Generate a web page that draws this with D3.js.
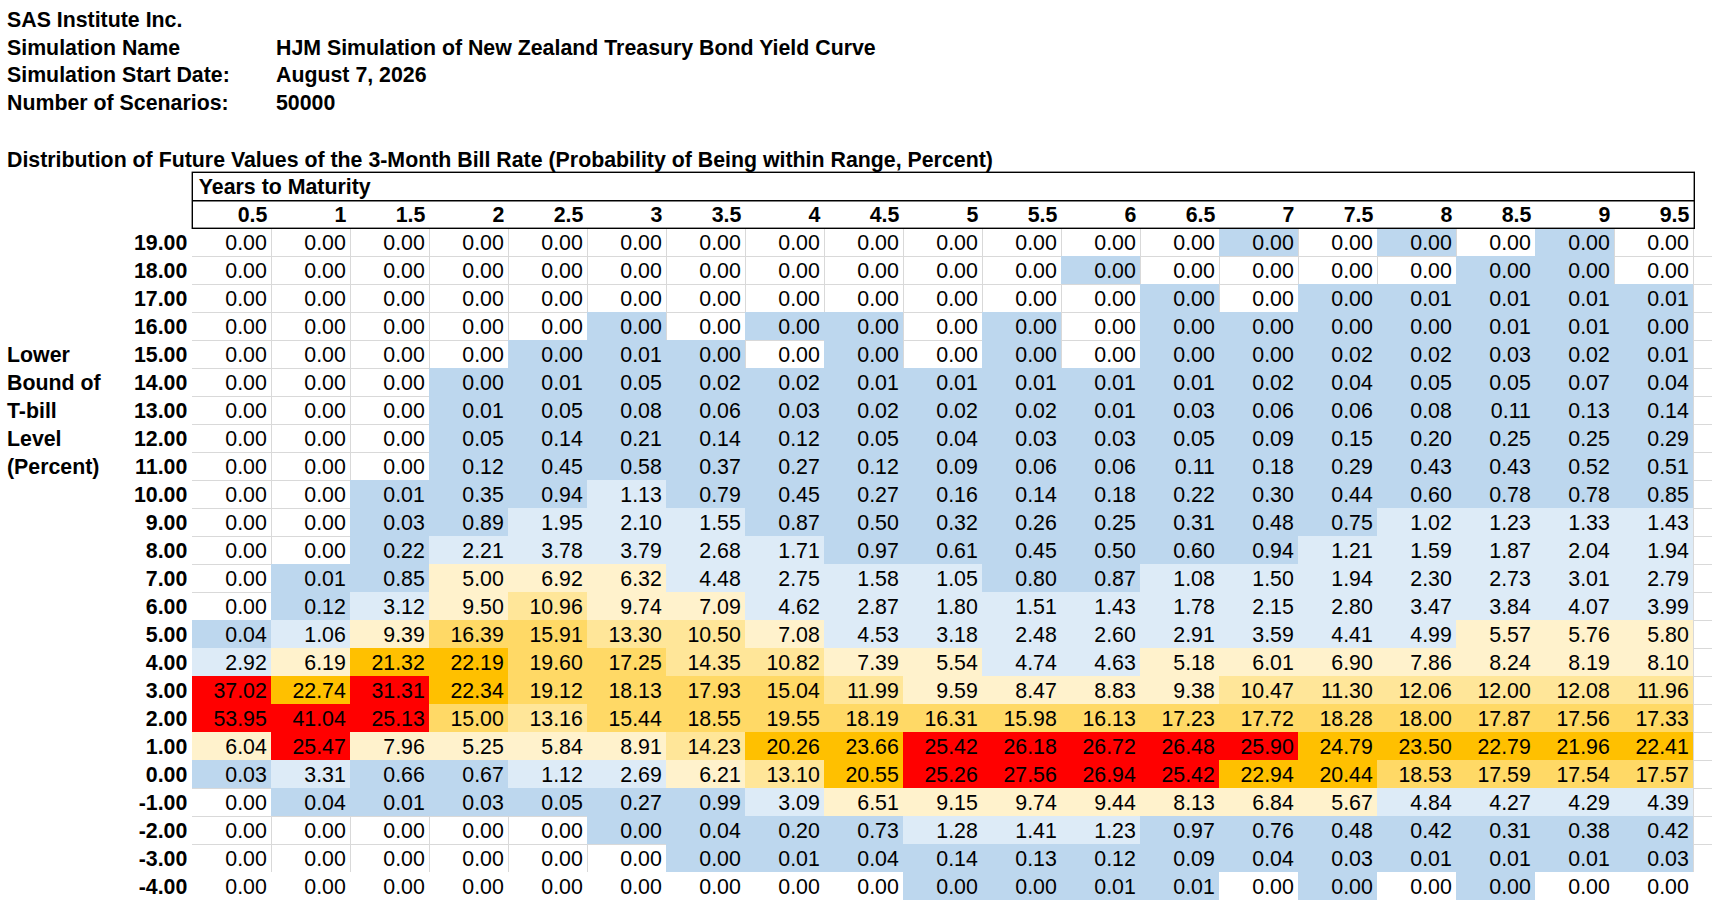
<!DOCTYPE html>
<html>
<head>
<meta charset="utf-8">
<script src="https://cdn.jsdelivr.net/npm/d3@7"></script>
<style>
  body { margin: 0; background: #fff; }
  svg { display: block; }
  text { font-family: "Liberation Sans", Arial, Helvetica, sans-serif; font-size: 21.33px; fill: #000; }
</style>
</head>
<body>
<script>
// ---------- data ----------
const company = "SAS Institute Inc.";
const infoLabels = ["Simulation Name", "Simulation Start Date:", "Number of Scenarios:"];
const infoValues = ["HJM Simulation of New Zealand Treasury Bond Yield Curve", "August 7, 2026", "50000"];
const tableTitle = "Distribution of Future Values of the 3-Month Bill Rate (Probability of Being within Range, Percent)";
const columnHeader = "Years to Maturity";
const rowHeaderLines = ["Lower", "Bound of", "T-bill", "Level", "(Percent)"];

const years = ["0.5","1","1.5","2","2.5","3","3.5","4","4.5","5","5.5","6","6.5","7","7.5","8","8.5","9","9.5"];
const lowerBounds = ["19.00","18.00","17.00","16.00","15.00","14.00","13.00","12.00","11.00","10.00","9.00","8.00",
                     "7.00","6.00","5.00","4.00","3.00","2.00","1.00","0.00","-1.00","-2.00","-3.00","-4.00"];

// probability (percent) per lower bound row; 0.001 = tiny positive value shown as 0.00
const probability = [
  [0,0,0,0,0,0,0,0,0,0,0,0,0,0.001,0,0.001,0,0.001,0],
  [0,0,0,0,0,0,0,0,0,0,0,0.001,0,0,0,0,0.001,0.001,0],
  [0,0,0,0,0,0,0,0,0,0,0,0,0.001,0,0.001,0.01,0.01,0.01,0.01],
  [0,0,0,0,0,0.001,0,0.001,0.001,0,0.001,0,0.001,0.001,0.001,0.001,0.01,0.01,0.001],
  [0,0,0,0,0.001,0.01,0.001,0,0.001,0,0.001,0,0.001,0.001,0.02,0.02,0.03,0.02,0.01],
  [0,0,0,0.001,0.01,0.05,0.02,0.02,0.01,0.01,0.01,0.01,0.01,0.02,0.04,0.05,0.05,0.07,0.04],
  [0,0,0,0.01,0.05,0.08,0.06,0.03,0.02,0.02,0.02,0.01,0.03,0.06,0.06,0.08,0.11,0.13,0.14],
  [0,0,0,0.05,0.14,0.21,0.14,0.12,0.05,0.04,0.03,0.03,0.05,0.09,0.15,0.20,0.25,0.25,0.29],
  [0,0,0,0.12,0.45,0.58,0.37,0.27,0.12,0.09,0.06,0.06,0.11,0.18,0.29,0.43,0.43,0.52,0.51],
  [0,0,0.01,0.35,0.94,1.13,0.79,0.45,0.27,0.16,0.14,0.18,0.22,0.30,0.44,0.60,0.78,0.78,0.85],
  [0,0,0.03,0.89,1.95,2.10,1.55,0.87,0.50,0.32,0.26,0.25,0.31,0.48,0.75,1.02,1.23,1.33,1.43],
  [0,0,0.22,2.21,3.78,3.79,2.68,1.71,0.97,0.61,0.45,0.50,0.60,0.94,1.21,1.59,1.87,2.04,1.94],
  [0,0.01,0.85,5.00,6.92,6.32,4.48,2.75,1.58,1.05,0.80,0.87,1.08,1.50,1.94,2.30,2.73,3.01,2.79],
  [0,0.12,3.12,9.50,10.96,9.74,7.09,4.62,2.87,1.80,1.51,1.43,1.78,2.15,2.80,3.47,3.84,4.07,3.99],
  [0.04,1.06,9.39,16.39,15.91,13.30,10.50,7.08,4.53,3.18,2.48,2.60,2.91,3.59,4.41,4.99,5.57,5.76,5.80],
  [2.92,6.19,21.32,22.19,19.60,17.25,14.35,10.82,7.39,5.54,4.74,4.63,5.18,6.01,6.90,7.86,8.24,8.19,8.10],
  [37.02,22.74,31.31,22.34,19.12,18.13,17.93,15.04,11.99,9.59,8.47,8.83,9.38,10.47,11.30,12.06,12.00,12.08,11.96],
  [53.95,41.04,25.13,15.00,13.16,15.44,18.55,19.55,18.19,16.31,15.98,16.13,17.23,17.72,18.28,18.00,17.87,17.56,17.33],
  [6.04,25.47,7.96,5.25,5.84,8.91,14.23,20.26,23.66,25.42,26.18,26.72,26.48,25.90,24.79,23.50,22.79,21.96,22.41],
  [0.03,3.31,0.66,0.67,1.12,2.69,6.21,13.10,20.55,25.26,27.56,26.94,25.42,22.94,20.44,18.53,17.59,17.54,17.57],
  [0,0.04,0.01,0.03,0.05,0.27,0.99,3.09,6.51,9.15,9.74,9.44,8.13,6.84,5.67,4.84,4.27,4.29,4.39],
  [0,0,0,0,0,0.001,0.04,0.20,0.73,1.28,1.41,1.23,0.97,0.76,0.48,0.42,0.31,0.38,0.42],
  [0,0,0,0,0,0,0.001,0.01,0.04,0.14,0.13,0.12,0.09,0.04,0.03,0.01,0.01,0.01,0.03],
  [0,0,0,0,0,0,0,0,0,0.001,0.001,0.01,0.01,0,0.001,0,0.001,0,0]
];

const colorBreaks = [0.0005, 1, 5, 10, 15, 20, 25];
const colorFills = ["none", "#BDD7EE", "#DDEBF7", "#FFF2CC", "#FFE699", "#FFD966", "#FFC000", "#FF0000"];

// ---------- layout ----------
const W = 1712, H = 914;
const tableLeft = 192.3, colW = 79;
const boxTop = 172.3, boxMid = 200.7, dataTop = 228.3, rowH = 28;

const x = d3.scaleBand().domain(years).range([tableLeft, tableLeft + years.length * colW]);
const y = d3.scaleBand().domain(lowerBounds).range([dataTop, dataTop + lowerBounds.length * rowH]);
const fill = d3.scaleThreshold().domain(colorBreaks).range(colorFills);
const tableRight = x.range()[1];

const svg = d3.select("body").append("svg").attr("width", W).attr("height", H);

// info block
svg.append("text").attr("x", 7).attr("y", 27.3).attr("font-weight", "bold").text(company);
const infoBase = [54.8, 82.4, 110];
infoLabels.forEach((t, i) => {
  svg.append("text").attr("x", 7).attr("y", infoBase[i]).attr("font-weight", "bold").text(t);
  svg.append("text").attr("x", 276).attr("y", infoBase[i]).attr("font-weight", "bold").text(infoValues[i]);
});
svg.append("text").attr("x", 7).attr("y", 166.7).attr("font-weight", "bold").text(tableTitle);

// gridlines (only under white cells; fills cover them)
const grid = svg.append("g").attr("stroke", "#D9D9D9").attr("stroke-width", 1).attr("shape-rendering", "crispEdges");
const lastGridRow = lowerBounds.length - 1; // last row has no gridlines
d3.range(1, lastGridRow).forEach(k => {
  const yy = dataTop + k * rowH;
  grid.append("line").attr("x1", tableLeft).attr("x2", W).attr("y1", yy).attr("y2", yy);
});
years.forEach(c => {
  const xx = x(c) + x.bandwidth();
  grid.append("line").attr("x1", xx).attr("x2", xx).attr("y1", dataTop).attr("y2", dataTop + lastGridRow * rowH);
});

// cells
const cells = [];
lowerBounds.forEach((r, i) => years.forEach((c, j) => cells.push({ r, c, v: probability[i][j] })));

svg.append("g").selectAll("rect")
  .data(cells.filter(d => fill(d.v) !== "none"))
  .join("rect")
  .attr("x", d => x(d.c)).attr("y", d => y(d.r))
  .attr("width", x.bandwidth()).attr("height", y.bandwidth())
  .attr("fill", d => fill(d.v))
  .attr("shape-rendering", "crispEdges");

svg.append("g").selectAll("text")
  .data(cells)
  .join("text")
  .attr("x", d => x(d.c) + x.bandwidth() - 4.5)
  .attr("y", d => y(d.r) + y.bandwidth() / 2 + 7.7)
  .attr("text-anchor", "end")
  .text(d => d.v.toFixed(2));

// row labels
svg.append("g").selectAll("text")
  .data(lowerBounds)
  .join("text")
  .attr("x", tableLeft - 5)
  .attr("y", d => y(d) + y.bandwidth() / 2 + 7.7)
  .attr("text-anchor", "end")
  .attr("font-weight", "bold")
  .text(d => d);

// row header (stacked words)
const rowHeaderRows = ["15.00", "14.00", "13.00", "12.00", "11.00"];
svg.append("g").selectAll("text")
  .data(rowHeaderLines)
  .join("text")
  .attr("x", 7)
  .attr("y", (d, i) => y(rowHeaderRows[i]) + y.bandwidth() / 2 + 7.7)
  .attr("font-weight", "bold")
  .text(d => d);

// column header box
const box = svg.append("g").attr("stroke", "#000").attr("stroke-width", 1.4).attr("fill", "none");
box.append("rect").attr("x", tableLeft).attr("y", boxTop).attr("width", tableRight - tableLeft + 1).attr("height", dataTop - boxTop);
box.append("line").attr("x1", tableLeft).attr("x2", tableRight + 1).attr("y1", boxMid).attr("y2", boxMid);

svg.append("text").attr("x", tableLeft + 6.5).attr("y", 194.3).attr("font-weight", "bold").text(columnHeader);

svg.append("g").selectAll("text")
  .data(years)
  .join("text")
  .attr("x", d => x(d) + x.bandwidth() - 4)
  .attr("y", 221.7)
  .attr("text-anchor", "end")
  .attr("font-weight", "bold")
  .text(d => d);
</script>
</body>
</html>
